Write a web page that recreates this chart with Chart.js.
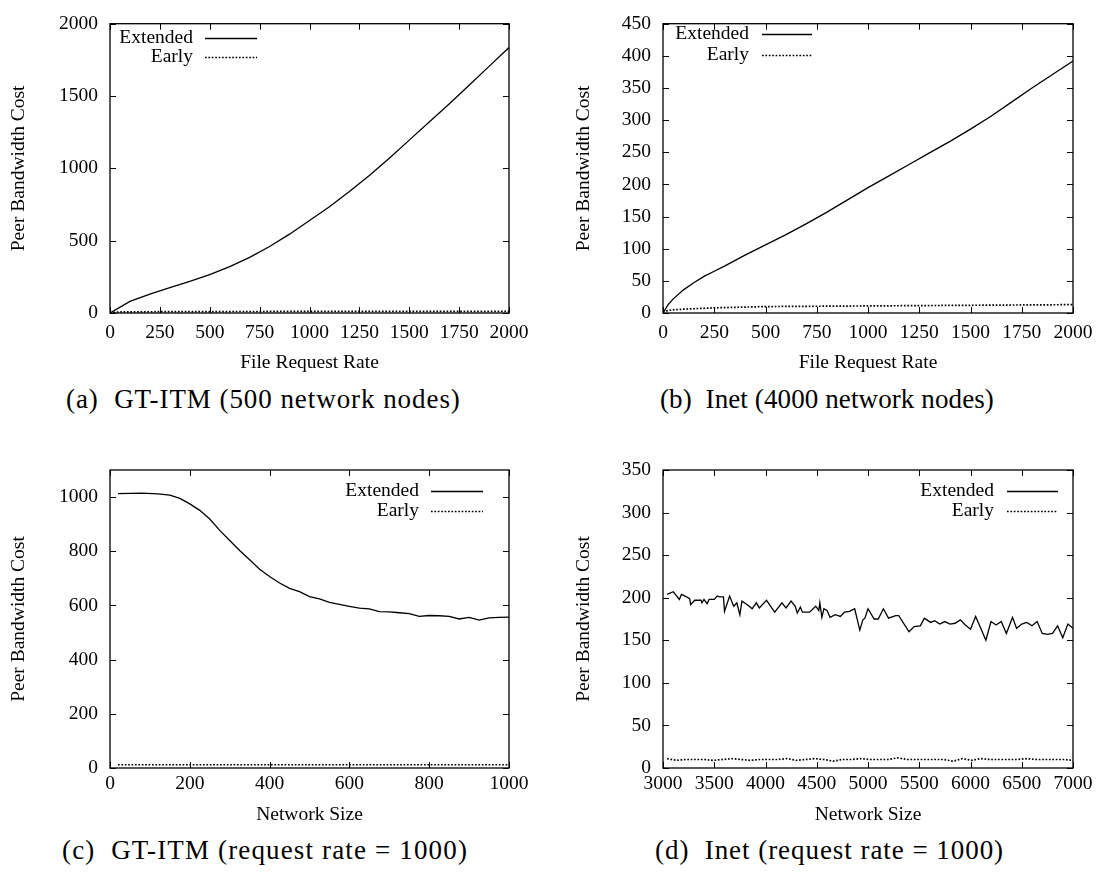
<!DOCTYPE html>
<html>
<head>
<meta charset="utf-8">
<script src="https://cdn.jsdelivr.net/npm/chart.js@4.4.0/dist/chart.umd.min.js"></script>
<style>
  body { margin: 0; background: #fff; width: 1104px; height: 873px; position: relative; overflow: hidden; font-family: "Liberation Serif", serif; }
  canvas { position: absolute; }
  .cap { position: absolute; font-family: "Liberation Serif", serif; font-size: 27px; line-height: 30px; white-space: pre; color: #000; }
</style>
</head>
<body>
<canvas id="chartA" width="560" height="380" style="left:0;top:0"></canvas>
<canvas id="chartB" width="544" height="380" style="left:560px;top:0"></canvas>
<canvas id="chartC" width="560" height="390" style="left:0;top:440px"></canvas>
<canvas id="chartD" width="544" height="390" style="left:560px;top:440px"></canvas>
<div class="cap" data-w="394" style="left:66px;top:384px">(a)  GT-ITM (500 network nodes)</div>
<div class="cap" data-w="334" style="left:660px;top:384px">(b)  Inet (4000 network nodes)</div>
<div class="cap" data-w="405" style="left:62px;top:835px">(c)  GT-ITM (request rate = 1000)</div>
<div class="cap" data-w="348" style="left:655px;top:835px">(d)  Inet (request rate = 1000)</div>
<script>
// ================== Data ==================
// (a) GT-ITM, 500 network nodes
const rateA = [0, 100, 200, 300, 400, 500, 600, 700, 800, 900, 1000, 1100, 1200, 1300, 1400, 1500, 1600, 1700, 1800, 1900, 2000];
const extendedA = [0, 80, 130, 175, 218, 265, 320, 385, 460, 545, 640, 735, 840, 950, 1070, 1195, 1320, 1445, 1575, 1705, 1835];
const earlyRateA = [0, 25, 50, 100, 250, 500, 1000, 1500, 2000];
const earlyA = [0, 5, 7, 8, 9, 10, 11, 11, 12];

// (b) Inet, 4000 network nodes
const rateB = [0, 25, 50, 100, 150, 200, 250, 300, 400, 500, 600, 700, 800, 900, 1000, 1100, 1200, 1300, 1400, 1500, 1600, 1700, 1800, 1900, 2000];
const extendedB = [0, 13, 22, 36, 47, 57, 65, 73, 90, 106, 122, 139, 157, 176, 195, 213, 231, 249, 267, 286, 306, 328, 350, 371, 392];
const earlyRateB = [0, 25, 50, 100, 250, 500, 1000, 1500, 2000];
const earlyB = [1, 4, 5, 6, 8, 10, 11, 12, 13];

// (c) GT-ITM, request rate = 1000
const sizeC = [20, 50, 80, 120, 150, 175, 200, 225, 250, 275, 300, 325, 350, 375, 400, 425, 450, 475, 500, 525, 550, 575, 600, 625, 650, 675, 700, 725, 750, 775, 800, 825, 850, 875, 900, 925, 950, 975, 1000];
const extendedC = [1013, 1014, 1015, 1012, 1007, 995, 975, 951, 919, 877, 840, 803, 769, 734, 707, 683, 663, 651, 633, 624, 611, 604, 597, 590, 587, 577, 576, 573, 570, 560, 563, 562, 560, 550, 556, 546, 554, 556, 557];
const earlySizeC = [20, 200, 400, 600, 800, 1000];
const earlyC = [12, 12, 12, 12, 12, 12];

// (d) Inet, request rate = 1000
const sizeD = [3040, 3100, 3160, 3180, 3230, 3260, 3270, 3310, 3370, 3380, 3400, 3430, 3450, 3500, 3530, 3550, 3590, 3600, 3650, 3690,
  3720, 3750, 3770, 3820, 3870, 3910, 3940, 4010, 4090, 4160, 4200, 4250, 4290, 4310, 4340, 4360, 4430, 4490, 4520, 4530,
  4550, 4570, 4600, 4630, 4680, 4730, 4770, 4820, 4870, 4920, 4950, 4970, 5000, 5060, 5100, 5150, 5200, 5270, 5300, 5400,
  5450, 5510, 5550, 5610, 5650, 5700, 5750, 5800, 5850, 5900, 5950, 6000, 6050, 6100, 6150, 6200, 6250, 6300, 6350, 6410,
  6450, 6500, 6550, 6600, 6650, 6700, 6750, 6800, 6850, 6900, 6950, 7000];
const extendedD = [204, 207, 198, 204, 201, 199, 192, 197, 197, 194, 198, 193, 198, 198, 202, 201, 201, 184, 202, 190,
  194, 180, 196, 192, 187, 194, 188, 197, 183, 194, 188, 196, 190, 182, 189, 183, 183, 190, 185, 194,
  177, 187, 185, 177, 180, 178, 183, 184, 187, 162, 174, 176, 187, 175, 175, 187, 176, 179, 179, 160,
  166, 167, 176, 171, 173, 169, 172, 169, 170, 174, 168, 163, 178, 164, 150, 172, 168, 172, 158, 177,
  164, 169, 171, 167, 172, 158, 157, 158, 167, 153, 169, 164];
const earlySizeD = [3040, 3130, 3220, 3310, 3400, 3490, 3580, 3670, 3760, 3850, 3940, 4030, 4120, 4210, 4300, 4390, 4480, 4570, 4660, 4750,
  4840, 4930, 5020, 5110, 5200, 5290, 5380, 5470, 5560, 5650, 5740, 5830, 5920, 6010, 6100, 6190, 6280, 6370, 6460, 6550,
  6640, 6730, 6820, 6910, 7000];
const earlyD = [11, 9, 10, 10, 10, 9, 10, 11, 10, 9, 10, 10, 10, 11, 9, 10, 11, 10, 8, 10,
  10, 11, 10, 10, 10, 12, 10, 10, 10, 10, 10, 8, 11, 9, 11, 10, 10, 10, 10, 11,
  10, 10, 10, 10, 9];

const seriesLabels = ["Extended", "Early"];

// ================== Helpers ==================
const SERIF = '"Liberation Serif", serif';
const FONT_SIZE = 19.5;

const toPoints = (xs, ys) => xs.map((x, i) => ({ x, y: ys[i] }));

// gnuplot-like frame: box, inward mirrored ticks and a key with the sample to the right
const gnuplotFrame = {
  id: "gnuplotFrame",
  afterDatasetsDraw(chart, args, opts) {
    const { ctx, chartArea: a, scales } = chart;
    const len = 6;
    ctx.save();
    ctx.strokeStyle = "#000";
    ctx.lineWidth = 1;
    ctx.beginPath();
    scales.x.ticks.forEach((t) => {
      const px = Math.round(scales.x.getPixelForValue(t.value)) + 0.5;
      ctx.moveTo(px, a.bottom); ctx.lineTo(px, a.bottom - len);
      ctx.moveTo(px, a.top); ctx.lineTo(px, a.top + len);
    });
    scales.y.ticks.forEach((t) => {
      const py = Math.round(scales.y.getPixelForValue(t.value)) + 0.5;
      ctx.moveTo(a.left, py); ctx.lineTo(a.left + len, py);
      ctx.moveTo(a.right, py); ctx.lineTo(a.right - len, py);
    });
    ctx.stroke();
    ctx.lineWidth = 1.3;
    ctx.strokeRect(a.left, a.top, a.right - a.left, a.bottom - a.top);

    // key
    ctx.font = FONT_SIZE + "px " + SERIF;
    ctx.fillStyle = "#000";
    ctx.textAlign = "right";
    ctx.textBaseline = "middle";
    chart.data.datasets.forEach((ds, i) => {
      const y = opts.rows[i];
      ctx.fillText(ds.label, opts.textRight, y);
      ctx.beginPath();
      ctx.lineWidth = ds.borderWidth;
      ctx.setLineDash(ds.borderDash || []);
      ctx.moveTo(opts.lineStart, y + 0.5);
      ctx.lineTo(opts.lineEnd, y + 0.5);
      ctx.stroke();
      ctx.setLineDash([]);
    });
    ctx.restore();
  },
};

function makeChart(id, cfg) {
  const font = { family: SERIF, size: FONT_SIZE };
  return new Chart(document.getElementById(id), {
    type: "line",
    data: {
      datasets: [
        { label: seriesLabels[0], data: toPoints(cfg.extX, cfg.extY), borderColor: "#000", borderWidth: 1.3, pointRadius: 0, tension: 0 },
        { label: seriesLabels[1], data: toPoints(cfg.earlyX, cfg.earlyY), borderColor: "#000", borderWidth: 1.7, borderDash: [1.7, 1.7], pointRadius: 0, tension: 0 },
      ],
    },
    options: {
      responsive: false,
      animation: false,
      layout: { padding: cfg.padding },
      plugins: { legend: { display: false }, tooltip: { enabled: false }, gnuplotFrame: cfg.key },
      scales: {
        x: {
          type: "linear", min: cfg.xMin, max: cfg.xMax,
          ticks: { stepSize: cfg.xStep, padding: cfg.xTickPad, autoSkip: false, maxRotation: 0, includeBounds: false, color: "#000", font, callback: (v) => String(v) },
          grid: { display: false, drawTicks: false },
          border: { display: false },
          title: { display: true, text: cfg.xTitle, color: "#000", font, padding: { top: 0, bottom: cfg.xTitlePad } },
          afterFit: (s) => { s.height = cfg.xHeight; },
        },
        y: {
          type: "linear", min: 0, max: cfg.yMax,
          ticks: { stepSize: cfg.yStep, padding: 12, autoSkip: false, includeBounds: false, color: "#000", font, callback: (v) => String(v) },
          grid: { display: false, drawTicks: false },
          border: { display: false },
          title: { display: true, text: "Peer Bandwidth Cost", color: "#000", font, padding: { top: cfg.yTitlePad, bottom: 0 } },
          afterFit: (s) => { s.width = cfg.yWidth; },
        },
      },
    },
    plugins: [gnuplotFrame],
  });
}

// ================== Charts ==================
function drawAll() {
  makeChart("chartA", {
    extX: rateA, extY: extendedA, earlyX: earlyRateA, earlyY: earlyA,
    xMin: 0, xMax: 2000, xStep: 250, yMax: 2000, yStep: 500,
    xTitle: "File Request Rate",
    padding: { top: 15, right: 51, bottom: 0, left: 0 },
    yWidth: 110, xHeight: 67, xTickPad: 8.3, xTitlePad: 5.3, yTitlePad: 7.3,
    key: { textRight: 193, lineStart: 205, lineEnd: 257, rows: [38, 57] },
  });

  makeChart("chartB", {
    extX: rateB, extY: extendedB, earlyX: earlyRateB, earlyY: earlyB,
    xMin: 0, xMax: 2000, xStep: 250, yMax: 450, yStep: 50,
    xTitle: "File Request Rate",
    padding: { top: 15, right: 31, bottom: 0, left: 0 },
    yWidth: 103, xHeight: 67, xTickPad: 8.3, xTitlePad: 5.3, yTitlePad: 12.3,
    key: { textRight: 189, lineStart: 202, lineEnd: 252, rows: [34, 55] },
  });

  makeChart("chartC", {
    extX: sizeC, extY: extendedC, earlyX: earlySizeC, earlyY: earlyC,
    xMin: 0, xMax: 1000, xStep: 200, yMax: 1100, yStep: 200,
    xTitle: "Network Size",
    padding: { top: 30, right: 51, bottom: 0, left: 0 },
    yWidth: 110, xHeight: 62, xTickPad: 4.3, xTitlePad: 3.3, yTitlePad: 7.3,
    key: { textRight: 419, lineStart: 431, lineEnd: 483, rows: [51, 71] },
  });

  makeChart("chartD", {
    extX: sizeD, extY: extendedD, earlyX: earlySizeD, earlyY: earlyD,
    xMin: 3000, xMax: 7000, xStep: 500, yMax: 350, yStep: 50,
    xTitle: "Network Size",
    padding: { top: 30, right: 31, bottom: 0, left: 0 },
    yWidth: 103, xHeight: 62, xTickPad: 4.3, xTitlePad: 3.3, yTitlePad: 12.3,
    key: { textRight: 434, lineStart: 447, lineEnd: 498, rows: [51, 71] },
  });
}

// ================== Captions ==================
// stretch each caption to the width it has in the figure
document.querySelectorAll(".cap").forEach((el) => {
  const target = Number(el.dataset.w);
  const w = el.getBoundingClientRect().width;
  const n = el.textContent.length - 1;
  el.style.letterSpacing = ((target - w) / n).toFixed(2) + "px";
});

// make sure the serif face is ready before the canvases draw text
document.fonts.load(FONT_SIZE + 'px "Liberation Serif"').then(drawAll, drawAll);
</script>
</body>
</html>
